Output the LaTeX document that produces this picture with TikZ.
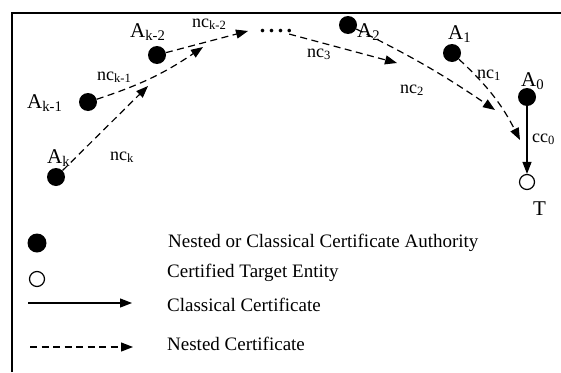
\documentclass[tikz,border=0pt]{standalone}
\usepackage{fontspec}
\setmainfont{Liberation Serif}
\usetikzlibrary{arrows.meta}
\begin{document}
\begin{tikzpicture}[x=1pt,y=-1pt,
  ca/.style={circle,fill=black,inner sep=0,minimum size=18pt},
  target/.style={circle,draw=black,line width=1.2pt,fill=white,inner sep=0,minimum size=15pt},
  nested/.style={line width=1.2pt,dash pattern=on 7pt off 4.5pt,-{Triangle[length=12pt,width=9pt]}},
  classical/.style={line width=1.2pt,-{Triangle[length=12pt,width=9pt]}},
  alab/.style={inner sep=0,anchor=base west,font=\fontsize{21}{24}\selectfont},
  nclab/.style={inner sep=0,anchor=base west,font=\fontsize{18}{20}\selectfont},
  legtext/.style={inner sep=0,anchor=base west,font=\fontsize{19}{22}\selectfont}]
\useasboundingbox (0,0) rectangle (561,372);
% frame (left and top edges)
\draw[line width=2pt] (12,372) -- (12,12.5) -- (561,12.5);

% certificate authorities and the target
\node[ca] (ak) at (56,177) {};
\node[ca] (akm1) at (88,102) {};
\node[ca] (akm2) at (157,55) {};
\node[ca] (a2) at (348,25) {};
\node[ca] (a1) at (452,53) {};
\node[ca] (a0) at (527,97) {};
\node[target] (t) at (527,182) {};

% their names
\node[alab] (lak) at (47,163) {A\textsubscript{k}};
\node[alab] (lakm1) at (27,108) {A\textsubscript{k-1}};
\node[alab] (lakm2) at (130,37) {A\textsubscript{k-2}};
\node[alab] (la2) at (357,37) {A\textsubscript{2}};
\node[alab] (la1) at (448,39) {A\textsubscript{1}};
\node[alab] (la0) at (521,86) {A\textsubscript{0}};
\node[alab] (lt) at (533,215) {T};

% elided part of the chain
\node[inner sep=0,anchor=base,font=\bfseries\fontsize{22}{24}\selectfont] (dots) at (276,32)
  {.\hspace{3.5pt}.\hspace{3.5pt}.\hspace{3.5pt}.};

% certificate labels
\node[nclab] (lnck) at (110,160) {nc\textsubscript{k}};
\node[nclab] (lnck1) at (97,80) {nc\textsubscript{k-1}};
\node[nclab] (lnck2) at (192,27) {nc\textsubscript{k-2}};
\node[nclab] (lnc3) at (307,57) {nc\textsubscript{3}};
\node[nclab] (lnc2) at (400,93) {nc\textsubscript{2}};
\node[nclab] (lnc1) at (477,78) {nc\textsubscript{1}};
\node[nclab] (lcc0) at (532,142) {cc\textsubscript{0}};

% certificate arrows
\coordinate (tk) at (148,86);
\coordinate (tk1) at (203,47);
\coordinate (tk2) at (248,31);
\coordinate (t3) at (397,63);
\coordinate (t2) at (495,110);
\coordinate (t1) at (520,140);
\draw[nested] (ak) -- (tk);
\draw[nested] (akm1) to[bend right=8] (tk1);
\draw[nested] (akm2) -- (tk2);
\draw[nested,shorten <=6pt] (dots) -- (t3);
\draw[nested] (a2) to[bend left=4] (t2);
\draw[nested] (a1) to[bend left=10] (t1);
\draw[classical] (a0) -- (t);

% legend
\node[ca,minimum size=19pt] (kca) at (37,243) {};
\node[target] (kt) at (37,279) {};
\coordinate (ks1) at (28,303);
\coordinate (ke1) at (132,303);
\coordinate (ks2) at (30,347);
\coordinate (ke2) at (133,347);
\draw[classical] (ks1) -- (ke1);
\draw[nested] (ks2) -- (ke2);
\node[legtext] (tca) at (168,247) {Nested or Classical Certificate Authority};
\node[legtext] (tt) at (167,277) {Certified Target Entity};
\node[legtext] (tcl) at (167,311) {Classical Certificate};
\node[legtext] (tnc) at (167,350) {Nested Certificate};
\end{tikzpicture}
\end{document}
